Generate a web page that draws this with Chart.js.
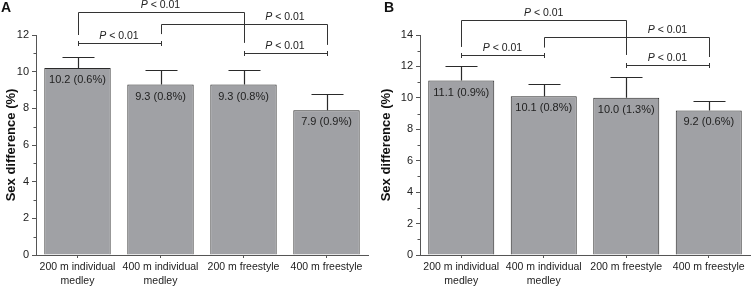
<!DOCTYPE html>
<html><head><meta charset="utf-8">
<script src="https://cdn.jsdelivr.net/npm/chart.js@4/dist/chart.umd.min.js"></script>
<style>
html,body{margin:0;padding:0;background:#fff;width:751px;height:286px;overflow:hidden}
.w{position:absolute;top:0;height:286px}
</style></head><body>
<div class="w" style="left:0;width:375px"><canvas id="ca"></canvas></div>
<div class="w" style="left:375px;width:376px"><canvas id="cb"></canvas></div>
<script>
// ---- data ----
const categories = [["200 m individual","medley"],["400 m individual","medley"],"200 m freestyle","400 m freestyle"];
const valuesA = [10.2, 9.3, 9.3, 7.9];
const sdA = [0.6, 0.8, 0.8, 0.9];
const valuesB = [11.1, 10.1, 10.0, 9.2];
const sdB = [0.9, 0.8, 1.3, 0.6];
const yMaxA = 12;
const yMaxB = 14;
const pLabel = "0.01";
// significance brackets: [fromBar, toBar, level, leftLegEnd, rightLegEnd, labelFrom, labelTo]
const bracketsA = [
  [0, 2, 13.26, 12.0, 11.57, 0, 2],
  [0, 1, 11.57, null, null, 0, 1],
  [1, 3, 12.6, 12.05, 11.46, 2, 3],
  [2, 3, 11.02, null, null, 2, 3]
];
const bracketsB = [
  [0, 2, 14.96, 13.24, 12.73, 0, 2],
  [0, 1, 12.73, null, null, 0, 1],
  [1, 3, 13.88, 13.2, 12.6, 2, 3],
  [2, 3, 12.09, null, null, 2, 3]
];

const FONT = "'Liberation Sans', Arial, sans-serif";

function annPlugin(values, sds, brackets, letter, letterX) {
  return {
    id: 'ann',
    afterDatasetsDraw(chart) {
      const ctx = chart.ctx, xs = chart.scales.x, ys = chart.scales.y;
      const meta = chart.getDatasetMeta(0);
      ctx.save();
      // minor y ticks
      ctx.strokeStyle = '#555'; ctx.lineWidth = 1;
      for (let v = ys.min + 1; v < ys.max; v += 2) {
        const py = Math.round(ys.getPixelForValue(v)) + 0.5;
        ctx.beginPath(); ctx.moveTo(ys.right - 2.5, py); ctx.lineTo(ys.right, py); ctx.stroke();
      }
      // error bars
      ctx.strokeStyle = '#2a2a2a'; ctx.lineWidth = 1.2;
      values.forEach((v, i) => {
        const cx = Math.round(meta.data[i].x) + 0.5;
        const top = ys.getPixelForValue(v);
        const e = Math.round(ys.getPixelForValue(v + sds[i])) + 0.5;
        ctx.beginPath();
        ctx.moveTo(cx, top); ctx.lineTo(cx, e);
        ctx.moveTo(cx - 16, e); ctx.lineTo(cx + 16, e);
        ctx.stroke();
      });
      // value labels inside bars
      ctx.fillStyle = '#222'; ctx.font = '11px ' + FONT;
      ctx.textAlign = 'center'; ctx.textBaseline = 'middle';
      values.forEach((v, i) => {
        const cx = meta.data[i].x;
        const top = ys.getPixelForValue(v);
        ctx.fillText(v.toFixed(1) + ' (' + sds[i].toFixed(1) + '%)', cx, top + 12);
      });
      // brackets
      ctx.strokeStyle = '#333'; ctx.lineWidth = 1;
      brackets.forEach(b => {
        const x1 = Math.round(meta.data[b[0]].x) + 0.5;
        const x2 = Math.round(meta.data[b[1]].x) + 0.5;
        const yl = Math.round(ys.getPixelForValue(b[2])) + 0.5;
        ctx.beginPath();
        ctx.moveTo(x1, yl); ctx.lineTo(x2, yl);
        if (b[3] !== null) {
          ctx.moveTo(x1, yl); ctx.lineTo(x1, ys.getPixelForValue(b[3]));
          ctx.moveTo(x2, yl); ctx.lineTo(x2, ys.getPixelForValue(b[4]));
        } else {
          ctx.moveTo(x1, yl - 2.5); ctx.lineTo(x1, yl + 2.5);
          ctx.moveTo(x2, yl - 2.5); ctx.lineTo(x2, yl + 2.5);
        }
        ctx.stroke();
        // label
        const lx = (meta.data[b[5]].x + meta.data[b[6]].x) / 2;
        const ly = yl - 2;
        ctx.textBaseline = 'bottom';
        ctx.font = 'italic 10.5px ' + FONT;
        const pW = ctx.measureText('P').width;
        ctx.font = '10.5px ' + FONT;
        const rest = ' < ' + pLabel;
        const rW = ctx.measureText(rest).width;
        const sx = lx - (pW + rW) / 2;
        ctx.textAlign = 'left';
        ctx.font = 'italic 10.5px ' + FONT;
        ctx.fillText('P', sx, ly);
        ctx.font = '10.5px ' + FONT;
        ctx.fillText(rest, sx + pW, ly);
      });
      // panel letter
      ctx.fillStyle = '#111'; ctx.font = 'bold 14px ' + FONT;
      ctx.textAlign = 'left'; ctx.textBaseline = 'top';
      ctx.fillText(letter, letterX, 1);
      ctx.restore();
    }
  };
}

function makeChart(id, values, sds, yMax, brackets, letter, letterX, yWidth, padRight) {
  return new Chart(document.getElementById(id), {
    type: 'bar',
    data: {
      labels: categories,
      datasets: [{
        data: values,
        backgroundColor: '#a0a1a5',
        borderColor: '#2a2a2a',
        borderWidth: 1,
        barPercentage: 0.8,
        categoryPercentage: 1.0
      }]
    },
    options: {
      responsive: true,
      maintainAspectRatio: false,
      devicePixelRatio: 1,
      animation: false,
      layout: { padding: { top: 35, right: padRight, left: 0, bottom: 0 } },
      plugins: { legend: { display: false }, tooltip: { enabled: false }, title: { display: false } },
      scales: {
        x: {
          offset: true,
          grid: { display: true, drawOnChartArea: false, offset: false, tickLength: 3, color: '#555' },
          border: { color: '#555', width: 1 },
          ticks: { color: '#222', font: { family: FONT, size: 10.5, lineHeight: 1.25 }, padding: 3, maxRotation: 0, autoSkip: false },
          afterFit(s) { s.height = 31; }
        },
        y: {
          min: 0, max: yMax,
          grid: { display: true, drawOnChartArea: false, tickLength: 4, color: '#555' },
          border: { color: '#555', width: 1 },
          ticks: { stepSize: 2, color: '#222', font: { family: FONT, size: 11 }, padding: 3 },
          title: { display: true, text: 'Sex difference (%)', color: '#111', font: { family: FONT, size: 13, weight: 'bold' }, padding: { top: 4, bottom: 4 } },
          afterFit(s) { s.width = yWidth; }
        }
      }
    },
    plugins: [annPlugin(values, sds, brackets, letter, letterX)]
  });
}

makeChart('ca', valuesA, sdA, yMaxA, bracketsA, 'A', 1, 36, 7);
makeChart('cb', valuesB, sdB, yMaxB, bracketsB, 'B', 9, 45, 1);
</script>
</body></html>
